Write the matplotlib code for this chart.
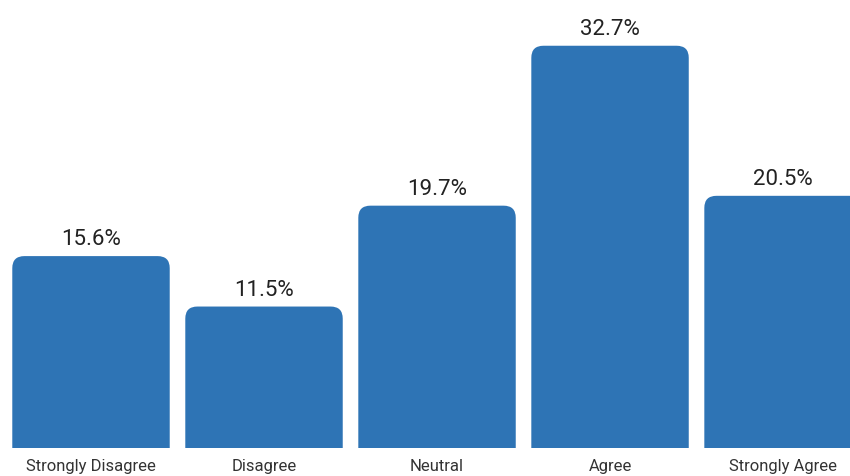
import matplotlib.pyplot as plt
from matplotlib.patches import FancyBboxPatch

categories = ["Strongly Disagree", "Disagree", "Neutral", "Agree", "Strongly Agree"]
values = [15.6, 11.5, 19.7, 32.7, 20.5]

bar_color = "#2E74B5"
width = 0.91

fig = plt.figure(figsize=(8.5, 4.77), dpi=100)
ax = fig.add_axes([0, 0.0587, 1, 0.9413])

x = list(range(len(categories)))
ax.set_xlim(-0.526, 4.387)
ax.set_ylim(0, 36.5)

# rounded top corners; bottom goes below zero and gets clipped
for xi, v in zip(x, values):
    box = FancyBboxPatch(
        (xi - width / 2, -3), width, v + 3,
        boxstyle="round,pad=0,rounding_size=0.07",
        mutation_aspect=14,
        facecolor=bar_color, edgecolor="none",
        clip_on=True,
    )
    ax.add_patch(box)
    ax.annotate(
        f"{v:.1f}%", (xi, v),
        xytext=(0, 5), textcoords="offset points",
        ha="center", va="bottom",
        fontsize=16, color="#222222", family="Roboto",
    )

ax.set_xticks(x)
ax.set_xticklabels(categories, fontsize=12, color="#333333", family="Roboto")
ax.tick_params(axis="x", length=0, pad=7)
ax.set_yticks([])
for s in ax.spines.values():
    s.set_visible(False)

plt.savefig("out.png", dpi=100)
